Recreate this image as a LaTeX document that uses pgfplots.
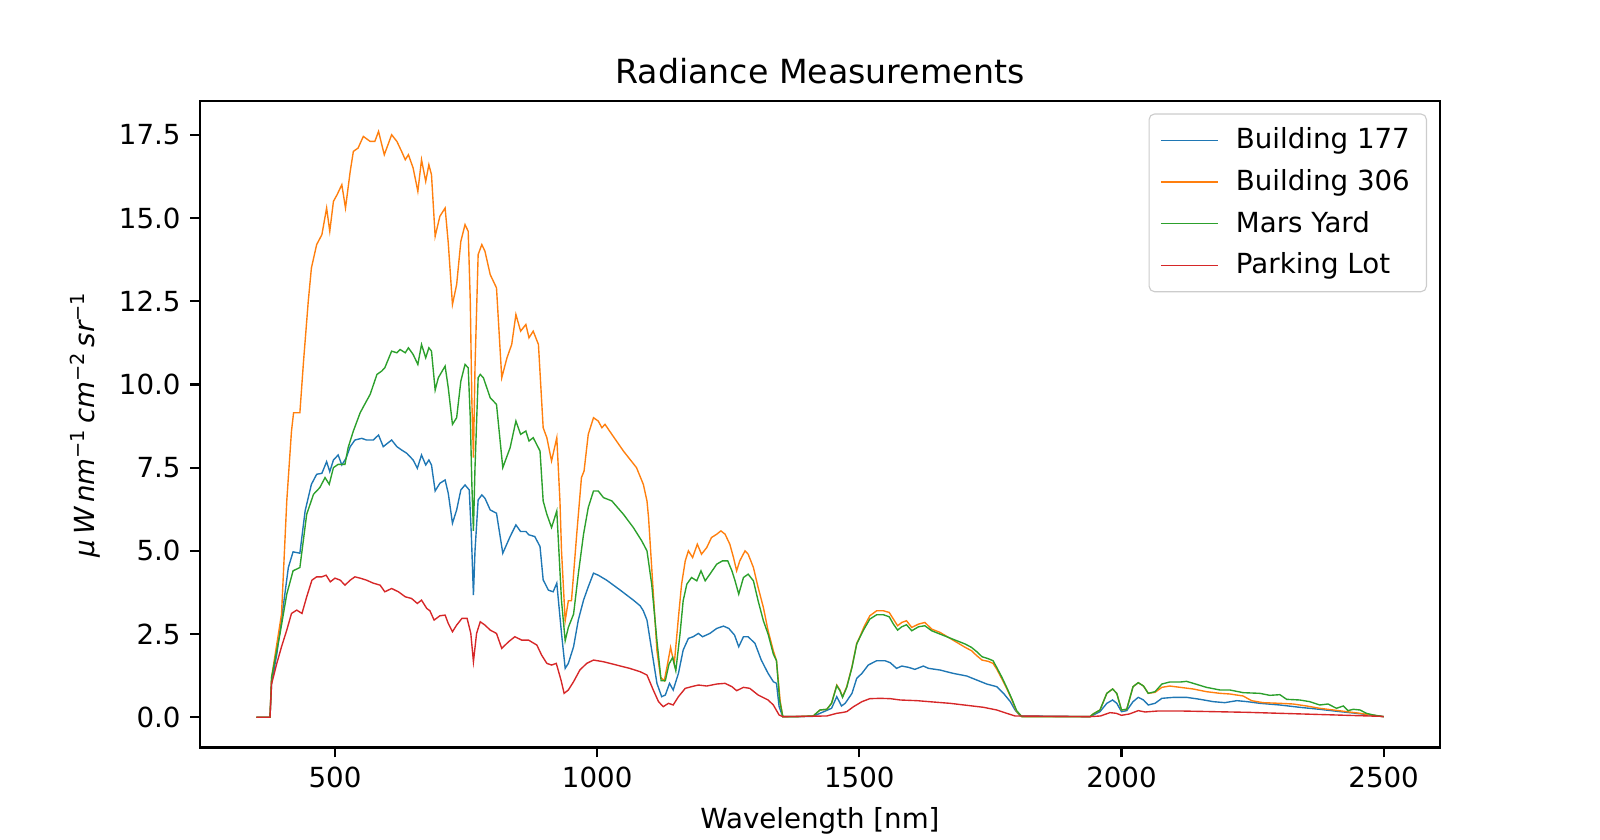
\documentclass[border=0pt]{standalone}
\usepackage{fontspec}
\setmainfont{DejaVu Sans}
\usepackage{pgfplots}
\usepackage{pgfplotstable}
\pgfplotsset{compat=1.18}
\definecolor{tabblue}{HTML}{1F77B4}
\definecolor{taborange}{HTML}{FF7F0E}
\definecolor{tabgreen}{HTML}{2CA02C}
\definecolor{tabred}{HTML}{D62728}

\pgfplotstableread{
x y
350 0
365 0
376 0
379 1.02
389 1.9
401 3.3
411 4.5
420 4.97
433 4.93
443 6.2
455 7.0
465 7.3
475 7.33
484 7.68
490 7.38
497 7.73
506 7.88
513 7.58
521 7.78
529 8.13
538 8.33
551 8.38
560 8.33
573 8.33
583 8.48
592 8.13
608 8.33
618 8.13
627 8.03
637 7.93
649 7.73
657 7.48
665 7.88
673 7.58
679 7.73
684 7.58
691 6.8
700 7.03
710 7.13
716 6.73
724 5.83
732 6.23
740 6.83
748 6.98
756 6.83
760 5.5
764 3.67
767 5.0
773 6.53
780 6.68
786 6.58
796 6.23
808 6.13
820 4.93
834 5.43
845 5.78
854 5.58
864 5.58
870 5.48
881 5.43
891 5.13
897 4.13
907 3.82
916 3.77
923 4.03
932 2.52
939 1.47
945 1.62
955 2.12
964 2.92
974 3.52
983 3.92
993 4.33
1002 4.27
1018 4.12
1044 3.82
1069 3.52
1082 3.35
1088 3.2
1095 2.92
1104 2.02
1114 1.02
1123 0.62
1130 0.67
1138 1.02
1145 0.82
1155 1.32
1164 2.02
1174 2.37
1183 2.42
1193 2.52
1201 2.42
1215 2.52
1228 2.67
1241 2.74
1251 2.67
1262 2.47
1270 2.12
1279 2.42
1288 2.42
1301 2.22
1313 1.72
1326 1.32
1336 1.07
1342 1.02
1347 0.32
1354 0.02
1380 0.02
1412 0.03
1425 0.12
1447 0.27
1457 0.62
1466 0.34
1473 0.42
1486 0.72
1495 1.17
1505 1.32
1517 1.57
1533 1.7
1549 1.7
1559 1.64
1571 1.47
1581 1.54
1594 1.5
1606 1.44
1622 1.54
1632 1.47
1654 1.42
1679 1.32
1705 1.24
1724 1.12
1743 1.0
1762 0.92
1775 0.72
1788 0.47
1797 0.22
1807 0.04
1940 0.02
1959 0.17
1972 0.42
1983 0.52
1991 0.42
2000 0.17
2010 0.2
2022 0.47
2032 0.6
2042 0.52
2051 0.37
2064 0.42
2077 0.57
2100 0.6
2124 0.6
2150 0.54
2175 0.47
2197 0.44
2220 0.5
2240 0.47
2264 0.42
2302 0.37
2340 0.3
2378 0.24
2417 0.17
2448 0.12
2480 0.06
2500 0.02
}\bldgA

\pgfplotstableread{
x y
350 0
365 0
376 0
379 1.2
386 1.9
398 3.1
408 6.5
417 8.6
421 9.15
433 9.15
440 10.7
449 12.5
455 13.5
465 14.2
475 14.5
484 15.3
490 14.6
497 15.5
504 15.7
513 16.0
520 15.3
529 16.4
535 17.0
544 17.1
554 17.45
567 17.3
576 17.3
583 17.6
594 16.9
608 17.5
618 17.3
627 17.0
634 16.75
640 16.9
649 16.5
658 15.8
665 16.75
673 16.1
679 16.6
684 16.3
691 14.45
700 15.05
710 15.3
716 14.25
724 12.4
732 13.0
740 14.3
748 14.8
754 14.6
758 12.5
761 9.5
764 7.8
767 10.5
773 13.9
780 14.2
786 14.0
796 13.3
808 12.9
818 10.2
828 10.8
837 11.2
845 12.1
854 11.6
864 11.8
870 11.4
878 11.6
888 11.2
897 8.7
904 8.4
913 7.7
923 8.4
929 6.5
932 5.0
939 2.9
945 3.5
951 3.5
961 5.5
970 7.2
975 7.4
983 8.5
993 9.0
1002 8.9
1009 8.7
1015 8.8
1028 8.5
1050 8.0
1075 7.5
1088 7.0
1095 6.5
1098 6.0
1104 4.5
1114 2.0
1121 1.2
1128 1.1
1133 1.5
1140 2.1
1147 1.6
1155 3.0
1161 4.0
1168 4.7
1174 5.0
1182 4.8
1191 5.2
1199 4.9
1209 5.1
1218 5.4
1228 5.5
1236 5.6
1244 5.5
1253 5.2
1260 4.8
1266 4.4
1272 4.7
1282 5.0
1288 4.9
1298 4.5
1307 3.9
1317 3.3
1326 2.6
1336 2.0
1342 1.7
1349 0.5
1354 0.02
1380 0.02
1412 0.04
1425 0.22
1438 0.24
1447 0.42
1457 0.97
1463 0.82
1468 0.62
1476 0.92
1486 1.52
1495 2.22
1501 2.42
1509 2.72
1520 3.05
1533 3.2
1546 3.2
1557 3.15
1565 2.95
1573 2.75
1581 2.85
1590 2.9
1600 2.7
1613 2.8
1625 2.85
1638 2.65
1654 2.55
1670 2.4
1686 2.25
1702 2.1
1714 2.0
1724 1.85
1734 1.72
1746 1.68
1755 1.62
1762 1.45
1772 1.15
1781 0.87
1791 0.52
1800 0.17
1810 0.02
1940 0.02
1946 0.1
1959 0.22
1972 0.72
1983 0.85
1991 0.72
2000 0.22
2010 0.24
2022 0.92
2032 1.04
2042 0.94
2051 0.72
2064 0.75
2077 0.9
2092 0.94
2112 0.9
2137 0.85
2162 0.77
2188 0.72
2207 0.7
2232 0.64
2248 0.5
2270 0.44
2302 0.42
2327 0.4
2353 0.34
2378 0.27
2404 0.22
2429 0.17
2455 0.12
2480 0.06
2500 0.02
}\bldgB

\pgfplotstableread{
x y
350 0
365 0
376 0
379 1.2
395 2.5
408 3.7
420 4.4
433 4.5
446 6.1
459 6.7
471 6.9
481 7.2
489 7.0
497 7.5
506 7.6
519 7.6
525 8.1
535 8.6
548 9.15
560 9.5
567 9.7
580 10.3
589 10.4
595 10.5
608 11.0
618 10.95
624 11.05
634 10.95
640 11.1
649 10.9
658 10.6
665 11.2
673 10.8
679 11.1
684 11.0
691 9.83
697 10.2
710 10.55
716 9.9
724 8.8
732 9.0
740 10.1
748 10.6
754 10.5
758 9.0
761 7.0
764 5.6
767 7.5
773 10.2
777 10.3
783 10.2
796 9.6
808 9.4
820 7.5
834 8.1
845 8.9
854 8.5
864 8.6
870 8.3
878 8.4
891 8.0
897 6.5
904 6.1
913 5.7
923 6.2
932 3.5
939 2.3
945 2.7
955 3.1
964 4.3
974 5.5
983 6.3
993 6.8
1002 6.8
1012 6.6
1028 6.5
1050 6.1
1069 5.7
1085 5.3
1095 5.0
1104 4.0
1114 2.3
1122 1.1
1130 1.1
1137 1.6
1144 1.8
1150 1.4
1158 2.5
1164 3.5
1171 4.0
1180 4.2
1190 4.1
1198 4.4
1206 4.1
1215 4.3
1228 4.6
1239 4.7
1249 4.7
1257 4.4
1263 4.1
1270 3.7
1279 4.2
1288 4.3
1298 4.1
1307 3.5
1317 2.9
1326 2.5
1336 1.9
1342 1.7
1348 0.5
1354 0.02
1380 0.02
1412 0.04
1425 0.22
1438 0.24
1447 0.42
1457 0.95
1463 0.8
1468 0.6
1476 0.9
1486 1.5
1495 2.2
1501 2.4
1509 2.65
1520 2.95
1533 3.08
1546 3.08
1557 3.02
1565 2.8
1573 2.62
1581 2.72
1590 2.78
1600 2.6
1613 2.72
1625 2.75
1638 2.6
1654 2.5
1670 2.4
1686 2.3
1702 2.2
1714 2.1
1724 1.97
1734 1.82
1746 1.76
1755 1.7
1762 1.5
1772 1.2
1781 0.9
1791 0.55
1800 0.2
1810 0.02
1940 0.02
1946 0.1
1959 0.22
1972 0.72
1983 0.85
1991 0.72
2000 0.22
2010 0.24
2022 0.92
2032 1.04
2042 0.94
2051 0.72
2064 0.77
2077 1.0
2092 1.06
2112 1.06
2124 1.08
2137 1.02
2162 0.9
2188 0.82
2207 0.82
2232 0.74
2264 0.72
2283 0.66
2302 0.68
2315 0.54
2340 0.52
2359 0.47
2378 0.37
2394 0.4
2410 0.27
2423 0.34
2432 0.2
2442 0.24
2455 0.22
2467 0.12
2480 0.07
2500 0.02
}\marsyard

\pgfplotstableread{
x y
350 0
365 0
376 0
379 1.0
389 1.62
398 2.12
408 2.62
417 3.12
427 3.22
437 3.12
446 3.62
456 4.12
465 4.22
475 4.22
483 4.27
491 4.07
500 4.18
510 4.12
519 3.97
529 4.12
538 4.22
548 4.18
560 4.12
573 4.03
586 3.97
595 3.77
608 3.87
621 3.77
634 3.62
646 3.57
657 3.42
665 3.52
675 3.27
681 3.2
689 2.92
700 3.05
710 3.07
716 2.82
724 2.57
732 2.77
742 2.97
752 2.97
759 2.52
764 1.67
770 2.52
777 2.87
786 2.77
796 2.62
808 2.52
818 2.07
831 2.27
843 2.42
856 2.32
869 2.32
885 2.17
894 1.87
904 1.62
913 1.57
922 1.62
931 1.12
937 0.72
945 0.82
955 1.07
967 1.42
980 1.62
993 1.72
1012 1.67
1037 1.57
1062 1.47
1082 1.37
1095 1.27
1107 0.82
1117 0.47
1126 0.32
1136 0.42
1145 0.37
1155 0.62
1168 0.87
1180 0.92
1193 0.97
1209 0.94
1228 1.0
1244 1.02
1257 0.92
1266 0.8
1279 0.9
1291 0.87
1307 0.67
1326 0.52
1336 0.37
1347 0.07
1354 0.02
1438 0.04
1457 0.12
1466 0.14
1476 0.17
1489 0.32
1505 0.47
1520 0.56
1540 0.57
1559 0.56
1578 0.52
1610 0.5
1641 0.46
1673 0.42
1705 0.36
1737 0.3
1762 0.22
1781 0.12
1797 0.04
1940 0.02
1960 0.04
1978 0.14
1990 0.12
2000 0.06
2015 0.1
2032 0.2
2045 0.16
2070 0.19
2112 0.19
2175 0.17
2239 0.15
2302 0.12
2366 0.09
2429 0.06
2493 0.03
2500 0.02
}\parking

\begin{document}
\begin{tikzpicture}
\begin{axis}[
  name=ax,
  scale only axis,
  width=6.2in, height=3.234in,
  xmin=242.5, xmax=2607.5,
  ymin=-0.91, ymax=18.52,
  axis line style={line width=0.8pt},
  tick align=outside,
  xtick pos=lower, ytick pos=left,
  major tick length=3.5pt,
  every tick/.style={line width=0.8pt, black},
  xtick={500,1000,1500,2000,2500},
  ytick={0,2.5,5,7.5,10,12.5,15,17.5},
  ticklabel style={font=\fontsize{10}{12}\selectfont},
  /pgf/number format/assume math mode=true,
  xticklabel style={/pgf/number format/1000 sep={}},
  yticklabel style={/pgf/number format/.cd, fixed, fixed zerofill, precision=1},
  title={Radiance Measurements},
  title style={font=\fontsize{12}{14}\selectfont, yshift=-3.4pt},
  xlabel={Wavelength [nm]},
  xlabel style={font=\fontsize{10}{12}\selectfont},
  ylabel={\itshape μ\,W\,nm\textsuperscript{\upshape −1}\,cm\textsuperscript{\upshape −2}\,sr\textsuperscript{\upshape −1}},
  ylabel style={font=\fontsize{10}{12}\selectfont},
  legend style={at={(0.9895,0.9805)}, anchor=north east, draw=black!20, rounded corners=2pt,
    font=\fontsize{10}{12}\selectfont, inner xsep=4pt, inner ysep=3pt,
    row sep=1.95pt, cells={anchor=west},
    /tikz/every odd column/.append style={column sep=4.4pt}},
  legend image code/.code={\draw[#1, line width=0.5pt] (0cm,0cm) -- (0.72cm,0cm);},
  every axis plot/.append style={line width=0.5pt},
]
\addplot[tabblue] table[x=x,y=y] {\bldgA};
\addlegendentry{Building 177}
\addplot[taborange] table[x=x,y=y] {\bldgB};
\addlegendentry{Building 306}
\addplot[tabgreen] table[x=x,y=y] {\marsyard};
\addlegendentry{Mars Yard}
\addplot[tabred] table[x=x,y=y] {\parking};
\addlegendentry{Parking Lot}
\end{axis}
\pgfresetboundingbox
\path[use as bounding box] ([xshift=-1in,yshift=-0.462in]ax.south west) rectangle ([xshift=0.8in,yshift=0.504in]ax.north east);
\end{tikzpicture}
\end{document}
